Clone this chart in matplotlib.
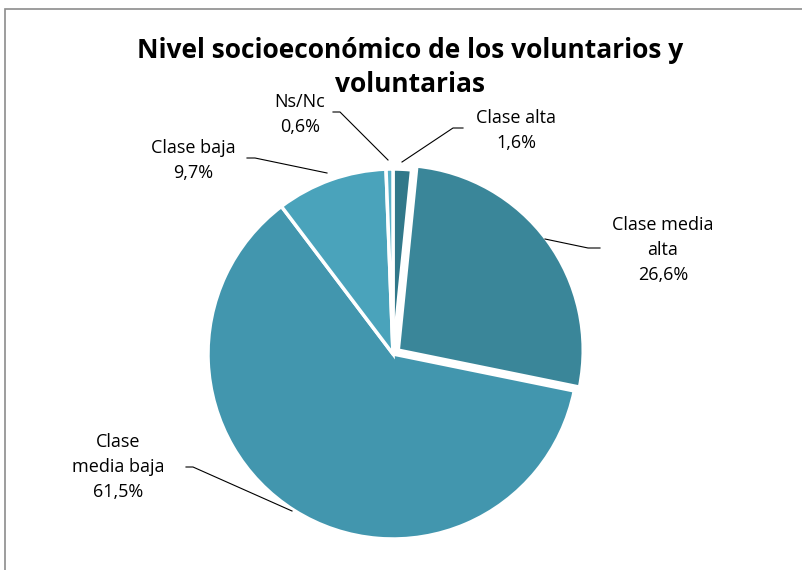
import matplotlib
matplotlib.use("Agg")
import matplotlib.pyplot as plt
from matplotlib.patches import Rectangle

# Data
categories = ["Clase alta", "Clase media alta", "Clase media baja", "Clase baja", "Ns/Nc"]
values = [1.6, 26.6, 61.5, 9.7, 0.6]
label_texts = ["Clase alta\n1,6%", "Clase media\nalta\n26,6%", "Clase\nmedia baja\n61,5%",
               "Clase baja\n9,7%", "Ns/Nc\n0,6%"]
colors = ["#31788A", "#3A8699", "#4296AE", "#4AA3BB", "#58B0C8"]
explode = [0.0, 6.5, 0.0, 0.0, 0.0]  # in pixels (data units)

W, H = 803, 570
plt.rcParams["font.family"] = ["Open Sans", "DejaVu Sans"]

fig = plt.figure(figsize=(W / 100, H / 100), dpi=100)
ax = fig.add_axes([0, 0, 1, 1])

# outer frame
fig.patches.append(Rectangle((5 / W, -0.05), 1.2, (H - 9) / H + 0.05, transform=fig.transFigure,
                             fill=False, edgecolor="#8c8c8c", linewidth=1.2))

cx, cy, r = 393, H - 354, 185
wedges, _ = ax.pie(values, colors=colors, startangle=90, counterclock=False,
                   explode=explode, center=(cx, cy), radius=r,
                   wedgeprops=dict(edgecolor="white", linewidth=2.5))

ax.set_xlim(0, W)
ax.set_ylim(0, H)
ax.set_aspect("equal")
ax.axis("off")

fig.text(410 / W, 1 - 50 / H, "Nivel socioeconómico de los voluntarios y",
         ha="center", va="center", fontsize=19, fontweight="bold")
fig.text(410 / W, 1 - 84 / H, "voluntarias",
         ha="center", va="center", fontsize=19, fontweight="bold")

# label text centre (px), leader line points (px, from label to pie)
label_pos = [(516, 131), (663, 250), (118, 467), (193, 161), (300, 115)]
leaders = [[(463, 128), (453, 128), (402, 162)],
           [(600, 248), (588, 248), (545, 239)],
           [(186, 467), (193, 467), (292, 511)],
           [(247, 158), (255, 158), (327, 173)],
           [(333, 112), (340, 112), (388, 160)]]

for txt, (lx, ly), pts in zip(label_texts, label_pos, leaders):
    ax.text(lx, H - ly, txt, ha="center", va="center", fontsize=13, linespacing=1.5)
    ax.plot([p[0] for p in pts], [H - p[1] for p in pts], color="black", linewidth=0.8)

fig.savefig("out.png", dpi=100)
